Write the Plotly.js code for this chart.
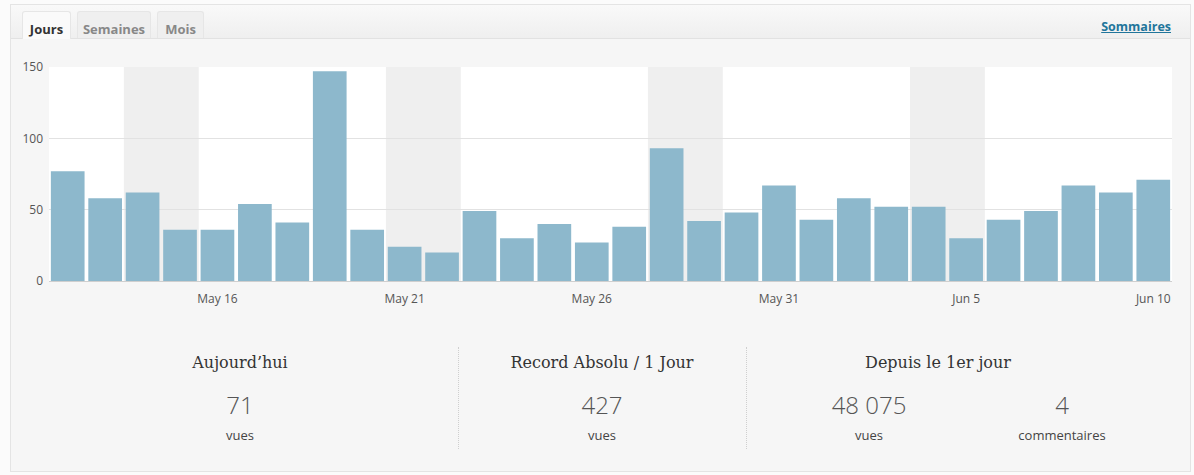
<!DOCTYPE html>
<html>
<head>
<meta charset="utf-8">
<script src="https://cdn.plot.ly/plotly-3.0.1.min.js"></script>
<style>
  html, body { margin:0; padding:0; background:#fbfbfb; width:1194px; height:475px; overflow:hidden; font-family:"Open Sans", sans-serif; }
  #box { position:absolute; left:10px; top:4px; width:1179px; height:466px; border:1px solid #e4e4e4; background:#f6f6f6; }
  #tabbar { position:absolute; left:11px; top:5px; width:1179px; height:33px; background:linear-gradient(#f9f9f9,#efefef); border-bottom:1px solid #e2e2e2; }
  .tab { position:absolute; top:11px; height:27px; box-sizing:border-box; border:1px solid #e6e6e6; border-bottom:none; border-radius:3px 3px 0 0; background:#efefef; color:#888; font-weight:bold; font-size:13px; line-height:34px; text-align:center; }
  .tab.active { background:#fafafa; color:#333; height:28px; }
  #somm { position:absolute; right:23px; top:18px; font-size:12.5px; font-weight:bold; color:#21759b; text-decoration:underline; }
  #chart { position:absolute; left:0; top:40px; width:1194px; height:280px; }
  .head { position:absolute; top:353px; font-family:"DejaVu Serif", serif; font-size:16px; color:#333; text-align:center; }
  .num { position:absolute; top:388px; font-family:"Open Sans", sans-serif; font-weight:300; font-size:24px; color:#555; text-align:center; }
  .lab { position:absolute; top:426px; font-size:13px; color:#444; text-align:center; }
  .sep { position:absolute; top:347px; height:102px; width:0; border-left:1px dotted #cfcfcf; }
</style>
</head>
<body>
<div id="box"></div>
<div id="tabbar"></div>
<div class="tab active" style="left:22px;width:49px;">Jours</div>
<div class="tab" style="left:77px;width:74px;">Semaines</div>
<div class="tab" style="left:157px;width:47px;">Mois</div>
<div id="somm">Sommaires</div>
<div id="chart"></div>

<div class="head" style="left:90px;width:300px;">Aujourd’hui</div>
<div class="num" style="left:90px;width:300px;">71</div>
<div class="lab" style="left:90px;width:300px;">vues</div>
<div class="sep" style="left:458px;"></div>
<div class="head" style="left:452px;width:300px;">Record Absolu / 1 Jour</div>
<div class="num" style="left:452px;width:300px;">427</div>
<div class="lab" style="left:452px;width:300px;">vues</div>
<div class="sep" style="left:746px;"></div>
<div class="head" style="left:813px;width:250px;">Depuis le 1er jour</div>
<div class="num" style="left:769px;width:200px;">48 075</div>
<div class="lab" style="left:769px;width:200px;">vues</div>
<div class="num" style="left:962px;width:200px;">4</div>
<div class="lab" style="left:962px;width:200px;">commentaires</div>

<script>
const days = ["2016-05-12","2016-05-13","2016-05-14","2016-05-15","2016-05-16","2016-05-17","2016-05-18","2016-05-19","2016-05-20","2016-05-21",
              "2016-05-22","2016-05-23","2016-05-24","2016-05-25","2016-05-26","2016-05-27","2016-05-28","2016-05-29","2016-05-30","2016-05-31",
              "2016-06-01","2016-06-02","2016-06-03","2016-06-04","2016-06-05","2016-06-06","2016-06-07","2016-06-08","2016-06-09","2016-06-10"];
const views = [77,58,62,36,36,54,41,147,36,24,
               20,49,30,40,27,38,93,42,48,67,
               43,58,52,52,30,43,49,67,62,71];
const weekendStarts = ["2016-05-14","2016-05-21","2016-05-28","2016-06-04"];
const weekendEnds   = ["2016-05-15","2016-05-22","2016-05-29","2016-06-05"];
const tickDays = ["2016-05-16","2016-05-21","2016-05-26","2016-05-31","2016-06-05","2016-06-10"];
const tickLabels = ["May 16","May 21","May 26","May 31","Jun 5","Jun 10"];
const yTicks = [0,50,100,150];

const HALF = 12*3600*1000;
function shift(d, ms){ return new Date(new Date(d+"T00:00:00Z").getTime()+ms).toISOString().replace("T"," ").replace("Z",""); }

const shapes = weekendStarts.map((d,i) => ({
  type:'rect', xref:'x', yref:'paper', x0:shift(d,-HALF), x1:shift(weekendEnds[i],HALF), y0:0, y1:1,
  fillcolor:'#efefef', line:{width:0}, layer:'below'
}));

Plotly.newPlot('chart', [{
  type:'bar', x:days, y:views,
  marker:{color:'#8db8cc', line:{width:0}},
  hoverinfo:'x+y'
}], {
  width:1194, height:280,
  margin:{l:49, r:22, t:27, b:39},
  paper_bgcolor:'rgba(0,0,0,0)', plot_bgcolor:'#ffffff',
  bargap:0.1,
  showlegend:false,
  font:{family:'"Open Sans", sans-serif', size:12, color:'#555'},
  xaxis:{type:'date', range:[shift(days[0],-HALF), shift(days[days.length-1],HALF)],
         tickvals:tickDays, ticktext:tickLabels, showgrid:false, zeroline:false, showline:false, ticks:'',
         ticklabelstandoff:9, tickfont:{size:12, color:'#555'}},
  yaxis:{range:[0,150], tickvals:yTicks, showgrid:true, gridcolor:'#e2e2e2', gridwidth:1,
         zeroline:true, zerolinecolor:'#cfcfcf', zerolinewidth:1, showline:false, ticks:'',
         ticklabelstandoff:5, tickfont:{size:12, color:'#555'}},
  shapes:shapes
}, {displayModeBar:false, staticPlot:true});
</script>
</body>
</html>
